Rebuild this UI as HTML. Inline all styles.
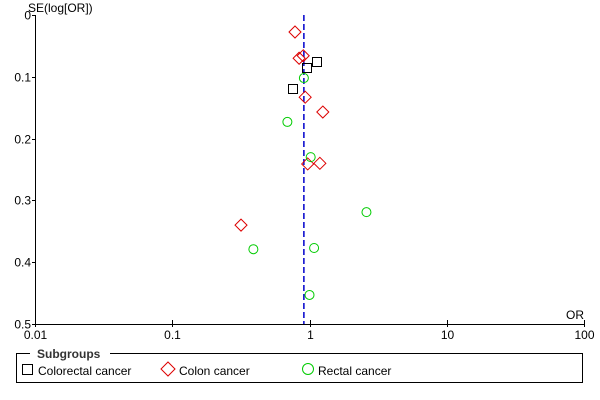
<!DOCTYPE html>
<html><head><meta charset="utf-8"><style>
body{margin:0;background:#fff}
svg{display:block;font-family:"Liberation Sans",sans-serif;font-size:12px}
</style></head><body>
<svg width="600" height="400" id="chart">
<g id="axes"></g><g id="marks"></g>
<g>
<rect x="16.5" y="353.5" width="566" height="29" fill="none" stroke="#000"/>
<rect x="30" y="347" width="80" height="12" fill="#fff"/>
<text x="37" y="358" font-weight="bold" fill="#333">Subgroups</text>
<rect x="22.5" y="364.5" width="10" height="10" fill="none" stroke="#000"/>
<text x="38" y="375">Colorectal cancer</text>
<path d="M168,362 l7,7 l-7,7 l-7,-7z" fill="none" stroke="#d00"/>
<text x="179" y="375">Colon cancer</text>
<circle cx="308" cy="369" r="5.5" fill="none" stroke="#0c0"/>
<text x="318" y="375">Rectal cancer</text>
</g>
</svg>
<script>
const xTicks=[0.01,0.1,1,10,100];
const xTickLabels=["0.01","0.1","1","10","100"];
const yTicks=[0,0.1,0.2,0.3,0.4,0.5];
const yTickLabels=["0","0.1","0.2","0.3","0.4","0.5"];
const pooledOR=0.91;
const colorectalOR=[1.13,0.96,0.76];
const colorectalSE=[0.076,0.086,0.12];
const colonOR=[0.784,0.84,0.9,0.93,1.25,0.97,1.19,0.317];
const colonSE=[0.0275,0.07,0.066,0.133,0.157,0.241,0.24,0.34];
const rectalOR=[0.91,0.69,1.02,2.6,0.39,1.08,1.0];
const rectalSE=[0.102,0.173,0.23,0.319,0.379,0.377,0.453];
const NS="http://www.w3.org/2000/svg";
const X0=35,X1=584,Y0=15,Y1=324;
const xs=v=>X0+(Math.log10(v)+2)/4*(X1-X0);
const ys=v=>Y0+v/0.5*(Y1-Y0);
function mk(tag,attrs,parent,txt){const e=document.createElementNS(NS,tag);for(const k in attrs)e.setAttribute(k,attrs[k]);if(txt!==undefined)e.textContent=txt;parent.appendChild(e);return e;}
const ax=document.getElementById('axes'),mg=document.getElementById('marks');
let e;
e=mk('line',{x1:X0+.5,y1:Y0,x2:X0+.5,y2:Y1+.5,stroke:'#000'},ax);


e=mk('line',{x1:X0,y1:Y1+.5,x2:X1+1,y2:Y1+.5,stroke:'#000'},ax);


yTicks.forEach((t,i)=>{const y=Math.round(ys(t))+.5;
mk('line',{x1:X0-3,y1:y,x2:X0,y2:y,stroke:'#000'},ax);
e=mk('text',{x:X0-4,y:y+4,'text-anchor':'end'},ax,yTickLabels[i]);

});
xTicks.forEach((t,i)=>{const x=Math.round(xs(t))+.5;
mk('line',{x1:x,y1:Y1-4,x2:x,y2:Y1+3,stroke:'#000'},ax);
e=mk('text',{x:x,y:Y1+15,'text-anchor':'middle'},ax,xTickLabels[i]);

});
e=mk('text',{x:28,y:12},ax,'SE(log[OR])');


e=mk('text',{x:584,y:319,'text-anchor':'end'},ax,'OR');


e=mk('line',{x1:xs(pooledOR),y1:Y0,x2:xs(pooledOR),y2:Y1,stroke:'#00c','stroke-width':1.5,'stroke-dasharray':'6,3'},mg);


colorectalOR.forEach((v,i)=>{const x=Math.round(xs(v)),y=Math.round(ys(colorectalSE[i]));
e=mk('rect',{x:x-4.5,y:y-4.5,width:9,height:9,fill:'none',stroke:'#000'},mg);

});
colonOR.forEach((v,i)=>{const x=xs(v),y=ys(colonSE[i]);
e=mk('path',{d:`M${x},${y-6} l6,6 l-6,6 l-6,-6z`,fill:'none',stroke:'#d00'},mg);

});
rectalOR.forEach((v,i)=>{
e=mk('circle',{cx:xs(v),cy:ys(rectalSE[i]),r:4.5,fill:'none',stroke:'#0c0'},mg);

});
</script>
</body></html>
